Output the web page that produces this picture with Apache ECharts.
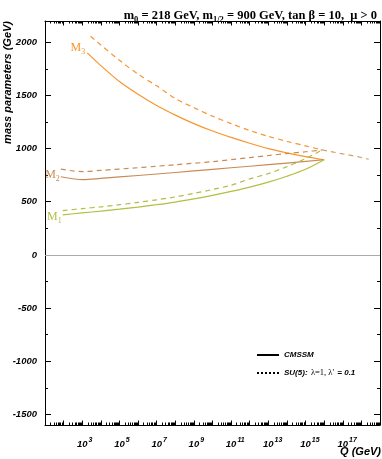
<!DOCTYPE html>
<html>
<head>
<meta charset="utf-8">
<script src="https://cdn.jsdelivr.net/npm/echarts@6/dist/echarts.min.js"></script>
<style>
  html, body { margin: 0; padding: 0; background: #fff; }
  #gaugino_con { width: 382px; height: 459px; }
</style>
</head>
<body>
<div id="gaugino_con"></div>
<script>
  // log10(Q/GeV) sample points and gaugino masses (GeV)
  const m3Q = [3.27, 4, 5, 6, 7, 8, 9, 10, 11, 12, 13, 14, 15, 16];
  const m3Cmssm = [1900, 1780, 1630, 1510, 1405, 1315, 1235, 1165, 1105, 1050, 1000, 960, 925, 895];
  const m3SuQ = [3.45, 4, 5, 6, 7, 8, 9, 10, 11, 12, 13, 14, 15, 15.88];
  const m3Su5 = [2057, 1975, 1830, 1700, 1590, 1470, 1385, 1305, 1235, 1170, 1115, 1068, 1025, 987];

  const m2Q = [1.85, 2.5, 3.05, 4, 6, 8, 10, 12, 14, 16];
  const m2Cmssm = [735, 716, 708, 720, 747, 775, 805, 834, 863, 895];
  const m2SuQ = [1.85, 2.5, 3.05, 4, 6, 8, 10, 12, 13, 14, 15, 15.88];
  const m2Su5 = [807, 790, 784, 795, 820, 848, 877, 915, 935, 953, 970, 987];

  const m1Q = [1.95, 3, 4, 5, 6, 7, 8, 9, 10, 11, 12, 13, 14, 15, 16];
  const m1Cmssm = [376, 395, 412, 430, 450, 472, 497, 527, 560, 597, 638, 685, 740, 805, 895];
  const m1SuQ = [1.95, 3, 4, 5, 6, 7, 8, 9, 10, 11, 12, 13, 14, 15, 15.88];
  const m1Su5 = [417, 435, 452, 472, 494, 518, 545, 578, 615, 655, 715, 765, 830, 905, 987];

  // unified SU(5) gaugino mass above the GUT scale
  const m5Q = [15.88, 16.5, 17, 17.5, 18, 18.4];
  const m5Su5 = [987, 967, 950, 934, 916, 900];

  const xLabelExps = [3, 5, 7, 9, 11, 13, 15, 17];
  const yLabels = [-1500, -1000, -500, 0, 500, 1000, 1500, 2000];
  const yMinor = [-1250, -750, -250, 250, 750, 1250, 1750];

  const cOrange = '#f7962e';
  const cBrown = '#c98a55';
  const cGreen = '#b2bf43';
  const cTan = '#d2a070';

  const sans = 'Liberation Sans';
  const serif = 'Liberation Serif';

  var xMajor = [];
  var xMinor = [];
  for (let n = 1; n <= 19; n++) {
    xMajor.push(n);
    if (n < 19) {
      for (let k = 2; k <= 9; k++) xMinor.push(n + Math.log10(k));
    }
  }

  function pairs(qs, vs) {
    return qs.map((q, i) => [q, vs[i]]);
  }

  // "M_i" tag placed left of the first point of a curve
  function tag(q, v, sub, color, offset) {
    return {
      silent: true,
      symbol: 'circle',
      symbolSize: 0,
      data: [{
        coord: [q, v],
        label: {
          show: true,
          position: 'left',
          distance: 1,
          offset: offset,
          formatter: '{m|M}{s|' + sub + '}',
          rich: {
            m: { fontFamily: serif, fontSize: 12, color: color },
            s: { fontFamily: serif, fontSize: 8, color: color, padding: [8, 0, 0, 0] }
          }
        }
      }]
    };
  }

  function curve(name, data, color, dashed, markPoint) {
    var s = {
      name: name,
      type: 'line',
      data: data,
      smooth: 0.3,
      symbol: 'none',
      silent: true,
      color: color,
      lineStyle: { color: color, width: 1.2, type: dashed ? [5, 4] : 'solid' }
    };
    if (markPoint) s.markPoint = markPoint;
    return s;
  }

  var chart = echarts.init(document.getElementById('gaugino_con'));

  var baseX = {
    type: 'value', min: 1, max: 19,
    splitLine: { show: false },
    axisLine: { show: true, onZero: false, lineStyle: { color: '#000', width: 1 } },
    axisLabel: { show: false }
  };
  var baseY = {
    type: 'value', min: -1600, max: 2200,
    splitLine: { show: false },
    axisLine: { show: true, onZero: false, lineStyle: { color: '#000', width: 1 } },
    axisLabel: { show: false }
  };
  var noLine = { show: false, onZero: false };

  const option = {
    animation: false,
    backgroundColor: '#fff',
    title: {
      right: 0,
      top: 3,
      text: '{b|m}{sb|0}{b| = 218 GeV, m}{sb|1/2}{b| = 900 GeV, tan β = 10,  μ > 0}',
      textStyle: {
        rich: {
          b: { fontFamily: serif, fontWeight: 'bold', fontSize: 12.5, color: '#000' },
          sb: { fontFamily: serif, fontWeight: 'bold', fontSize: 8.5, color: '#000', padding: [7, 0, 0, 0] }
        }
      }
    },
    grid: { left: 45, right: 2, top: 21, bottom: 34 },
    legend: {
      orient: 'vertical',
      left: 251,
      top: 346,
      itemWidth: 22,
      itemHeight: 10,
      itemGap: 8,
      data: ['CMSSM', 'SU5'],
      itemStyle: { color: 'rgba(0,0,0,0)', borderWidth: 0, opacity: 0 },
      formatter: function (name) {
        return name === 'CMSSM' ? '{a|CMSSM}' : '{a|SU(5):} {g|λ=1, λ\'} {a|= 0.1}';
      },
      textStyle: {
        rich: {
          a: { fontFamily: sans, fontStyle: 'italic', fontWeight: 'bold', fontSize: 8, color: '#000' },
          g: { fontFamily: serif, fontSize: 8.5, color: '#000' }
        }
      }
    },
    graphic: [
      {
        type: 'text', x: 8, y: 21, rotation: Math.PI / 2,
        style: {
          text: 'mass parameters (GeV)', fill: '#000',
          font: 'italic bold 11px "Liberation Sans"',
          textAlign: 'right', textVerticalAlign: 'middle'
        }
      },
      {
        type: 'text', x: 381, y: 452,
        style: {
          text: 'Q (GeV)', fill: '#000',
          font: 'italic bold 11px "Liberation Sans"',
          textAlign: 'right', textVerticalAlign: 'middle'
        }
      }
    ],
    xAxis: [
      Object.assign({}, baseX, {
        position: 'bottom',
        axisTick: { show: true, inside: true, length: 4.5, customValues: xMajor, lineStyle: { color: '#000' } },
        axisLabel: {
          show: true,
          customValues: xLabelExps,
          margin: 12,
          formatter: function (v) { return '{p|' + v + '}{b|10}{s|' + v + '}'; },
          rich: {
            b: { fontFamily: sans, fontStyle: 'italic', fontWeight: 'bold', fontSize: 9.5, color: '#000' },
            s: { fontFamily: sans, fontStyle: 'italic', fontWeight: 'bold', fontSize: 7, color: '#000', padding: [0, 0, 8, 1] },
            p: { fontFamily: sans, fontStyle: 'italic', fontWeight: 'bold', fontSize: 7, color: 'rgba(0,0,0,0)', padding: [0, 1, 8, 0] }
          }
        }
      }),
      Object.assign({}, baseX, {
        position: 'bottom',
        axisLine: noLine,
        axisTick: { show: true, inside: true, length: 2.5, customValues: xMinor, lineStyle: { color: '#000' } }
      }),
      Object.assign({}, baseX, {
        position: 'top',
        axisTick: { show: true, inside: true, length: 4.5, customValues: xMajor, lineStyle: { color: '#000' } }
      }),
      Object.assign({}, baseX, {
        position: 'top',
        axisLine: noLine,
        axisTick: { show: true, inside: true, length: 2.5, customValues: xMinor, lineStyle: { color: '#000' } }
      })
    ],
    yAxis: [
      Object.assign({}, baseY, {
        position: 'left',
        axisTick: { show: true, inside: true, length: 6, customValues: yLabels, lineStyle: { color: '#000' } },
        axisLabel: {
          show: true,
          customValues: yLabels,
          margin: 8,
          formatter: function (v) { return String(v); },
          fontFamily: sans, fontStyle: 'italic', fontWeight: 'bold', fontSize: 9.5, color: '#000'
        }
      }),
      Object.assign({}, baseY, {
        position: 'left',
        axisLine: noLine,
        axisTick: { show: true, inside: true, length: 3, customValues: yMinor, lineStyle: { color: '#000' } }
      }),
      Object.assign({}, baseY, {
        position: 'right',
        axisTick: { show: true, inside: true, length: 6, customValues: yLabels, lineStyle: { color: '#000' } }
      }),
      Object.assign({}, baseY, {
        position: 'right',
        axisLine: noLine,
        axisTick: { show: true, inside: true, length: 3, customValues: yMinor, lineStyle: { color: '#000' } }
      })
    ],
    series: [
      {
        name: 'zero', type: 'line', data: [], silent: true,
        markLine: {
          silent: true, symbol: 'none', label: { show: false },
          lineStyle: { color: '#aaa', width: 1, type: 'solid' },
          data: [{ yAxis: 0 }]
        }
      },
      curve('M3 CMSSM', pairs(m3Q, m3Cmssm), cOrange, false, tag(m3Q[0], m3Cmssm[0], '3', cOrange, [-1, -5])),
      curve('M3 SU5', pairs(m3SuQ, m3Su5), cOrange, true),
      curve('M2 CMSSM', pairs(m2Q, m2Cmssm), cBrown, false, tag(m2Q[0], m2Cmssm[0], '2', cBrown, [0, -2])),
      curve('M2 SU5', pairs(m2SuQ, m2Su5), cBrown, true),
      curve('M1 CMSSM', pairs(m1Q, m1Cmssm), cGreen, false, tag(m1Q[0], m1Cmssm[0], '1', cGreen, [0, 2])),
      curve('M1 SU5', pairs(m1SuQ, m1Su5), cGreen, true),
      curve('M5 SU5', pairs(m5Q, m5Su5), cTan, true),
      { name: 'CMSSM', type: 'line', data: [], symbol: 'none', color: '#000', lineStyle: { color: '#000', width: 1, type: 'solid' } },
      { name: 'SU5', type: 'line', data: [], symbol: 'none', color: '#000', lineStyle: { color: '#000', width: 1, type: [2, 2] } }
    ]
  };
  chart.setOption(option);
  window.addEventListener('resize', function () {
    chart.resize();
  });
</script>
</body>
</html>
